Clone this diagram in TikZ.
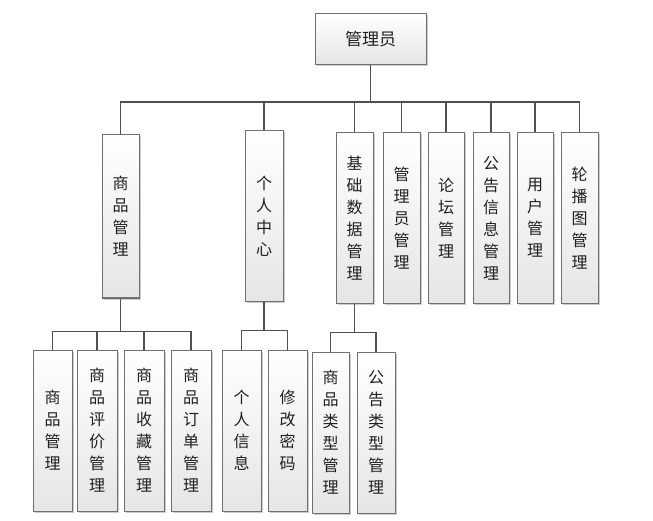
\documentclass[tikz,border=0pt]{standalone}
\usepackage{fontspec}
\newfontfamily\cjk{Noto Sans CJK SC}
\usetikzlibrary{shadows}
\definecolor{boxline}{HTML}{707070}
\definecolor{conn}{HTML}{505050}
\definecolor{txt}{HTML}{202020}
\tikzset{
  box/.style={draw=boxline, line width=1pt, rectangle, inner sep=0pt,
    top color=white, bottom color=black!10,
    drop shadow={shadow xshift=1.5pt, shadow yshift=-1.5pt, fill=black, opacity=0.2},
    text=txt, align=center, font=\cjk\fontsize{16}{22}\selectfont},
  rootbox/.style={box, minimum width=111pt, minimum height=51pt, font=\cjk\fontsize{17}{22}\selectfont},
  tall/.style={box, minimum width=37pt, minimum height=170pt},
  leaf/.style={box, minimum width=39pt, minimum height=161pt},
  link/.style={draw=conn, line width=1.6pt}
}
\begin{document}
\begin{tikzpicture}[x=1pt,y=-1pt]
\useasboundingbox (0,0) rectangle (653,521);
% root
\node[rootbox] (r) at (370.5,39.5) {管理员};
% level 2
\node[tall, minimum height=163pt] (a1) at (120.5,216.5) {商\\品\\管\\理};
\node[tall, minimum width=38pt] (a2) at (264,216) {个\\人\\中\\心};
\node[tall] (a3) at (354.5,218) {基\\础\\数\\据\\管\\理};
\node[tall] (a4) at (401.5,218) {管\\理\\员\\管\\理};
\node[tall, minimum width=36pt] (a5) at (446,218) {论\\坛\\管\\理};
\node[tall, minimum width=36pt] (a6) at (491,218) {公\\告\\信\\息\\管\\理};
\node[tall, minimum width=36pt] (a7) at (535,218) {用\\户\\管\\理};
\node[tall] (a8) at (579.5,218) {轮\\播\\图\\管\\理};
% level 3
\node[leaf] (b1) at (52.5,430.5) {商\\品\\管\\理};
\node[leaf, minimum width=40pt] (b2) at (97,430.5) {商\\品\\评\\价\\管\\理};
\node[leaf, minimum width=40pt] (b3) at (144,430.5) {商\\品\\收\\藏\\管\\理};
\node[leaf, minimum width=40pt] (b4) at (191,430.5) {商\\品\\订\\单\\管\\理};
\node[leaf] (c1) at (241.5,430.5) {个\\人\\信\\息};
\node[leaf] (c2) at (287.5,430.5) {修\\改\\密\\码};
\node[leaf, minimum width=37pt] (d1) at (330.5,432.5) {商\\品\\类\\型\\管\\理};
\node[leaf, minimum width=38pt] (d2) at (376,432.5) {公\\告\\类\\型\\管\\理};
% connectors root -> level 2
\foreach \c in {a1,a2,a3,a4,a5,a6,a7,a8}
  \draw[link] (r.south) -- ++(0,36.5) -| (\c.north);
% connectors level 2 -> level 3
\foreach \c in {b1,b2,b3,b4}
  \draw[link] (a1.south) -- ++(0,33) -| (\c.north);
\foreach \c in {c1,c2}
  \draw[link] (a2.south) -- ++(0,29) -| (\c.north);
\foreach \c in {d1,d2}
  \draw[link] (a3.south) -- ++(0,29) -| (\c.north);
\end{tikzpicture}
\end{document}
